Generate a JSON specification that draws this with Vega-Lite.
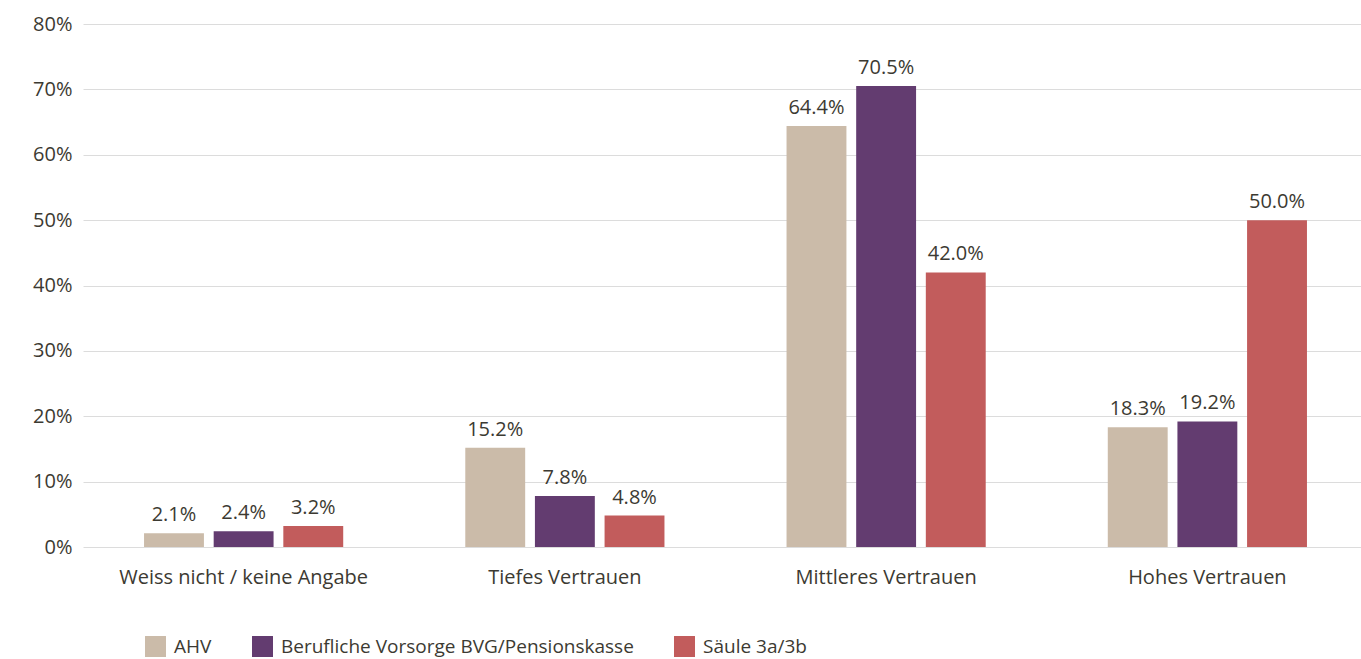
{
  "$schema": "https://vega.github.io/schema/vega-lite/v6.json",
  "width": 1285,
  "height": 523,
  "autosize": {"type": "none"},
  "padding": {"left": 83, "top": 24, "right": 0, "bottom": 112},
  "background": "white",
  "config": {
    "view": {"stroke": null},
    "font": "Open Sans",
    "axis": {"labelFont": "Open Sans", "labelColor": "#3c3a32", "labelFontSize": 20, "labelLimit": 0},
    "legend": {"labelFont": "Open Sans", "labelColor": "#3c3a32", "labelFontSize": 19, "labelLimit": 0}
  },
  "data": {
    "values": [
      {"cat": "Weiss nicht / keine Angabe", "series": "AHV", "v": 0.021},
      {"cat": "Weiss nicht / keine Angabe", "series": "Berufliche Vorsorge BVG/Pensionskasse", "v": 0.024},
      {"cat": "Weiss nicht / keine Angabe", "series": "Säule 3a/3b", "v": 0.032},
      {"cat": "Tiefes Vertrauen", "series": "AHV", "v": 0.152},
      {"cat": "Tiefes Vertrauen", "series": "Berufliche Vorsorge BVG/Pensionskasse", "v": 0.078},
      {"cat": "Tiefes Vertrauen", "series": "Säule 3a/3b", "v": 0.048},
      {"cat": "Mittleres Vertrauen", "series": "AHV", "v": 0.644},
      {"cat": "Mittleres Vertrauen", "series": "Berufliche Vorsorge BVG/Pensionskasse", "v": 0.705},
      {"cat": "Mittleres Vertrauen", "series": "Säule 3a/3b", "v": 0.42},
      {"cat": "Hohes Vertrauen", "series": "AHV", "v": 0.183},
      {"cat": "Hohes Vertrauen", "series": "Berufliche Vorsorge BVG/Pensionskasse", "v": 0.192},
      {"cat": "Hohes Vertrauen", "series": "Säule 3a/3b", "v": 0.5}
    ]
  },
  "encoding": {
    "x": {
      "field": "cat", "type": "nominal", "sort": null, "title": null,
      "scale": {"paddingInner": 0.38, "paddingOuter": 0.19},
      "axis": {"labelAngle": 0, "ticks": false, "domain": false, "labelPadding": 20, "grid": false, "labelLimit": 0}
    },
    "xOffset": {
      "field": "series", "type": "nominal",
      "sort": ["AHV", "Berufliche Vorsorge BVG/Pensionskasse", "Säule 3a/3b"],
      "scale": {"paddingInner": 0.14}
    },
    "y": {
      "field": "v", "type": "quantitative", "title": null,
      "scale": {"domain": [0, 0.8]},
      "axis": {"format": ".0%", "values": [0,0.1,0.2,0.3,0.4,0.5,0.6,0.7,0.8], "labelOverlap": false, "ticks": false, "domain": false, "labelPadding": 11, "gridColor": "#dcdcdc", "gridWidth": 1}
    }
  },
  "layer": [
    {
      "mark": {"type": "bar"},
      "encoding": {
        "color": {
          "field": "series", "type": "nominal", "title": null,
          "sort": ["AHV", "Berufliche Vorsorge BVG/Pensionskasse", "Säule 3a/3b"],
          "scale": {"domain": ["AHV", "Berufliche Vorsorge BVG/Pensionskasse", "Säule 3a/3b"], "range": ["#cbbba9", "#633c70", "#c25c5c"]},
          "legend": {
            "orient": "none", "direction": "horizontal", "legendX": 62, "legendY": 612,
            "symbolType": "square", "symbolSize": 440, "symbolStrokeWidth": 0, "symbolOpacity": 1,
            "columnPadding": 40, "labelOffset": 8, "labelLimit": 0
          }
        }
      }
    },
    {
      "mark": {"type": "text", "baseline": "bottom", "dy": -8, "fontSize": 20, "color": "#3c3a32", "font": "Open Sans"},
      "encoding": {"text": {"field": "v", "type": "quantitative", "format": ".1%"}}
    }
  ]
}
